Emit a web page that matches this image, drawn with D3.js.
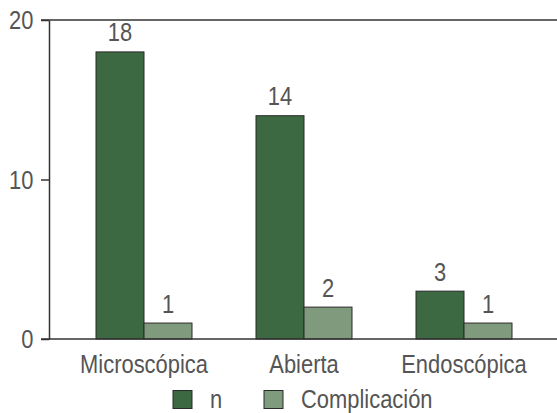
<!DOCTYPE html>
<html>
<head>
<meta charset="utf-8">
<script src="https://cdn.jsdelivr.net/npm/d3@7"></script>
<style>
  html, body { margin: 0; padding: 0; background: #fff; }
  svg text { font-family: "Liberation Sans", Arial, Helvetica, sans-serif; fill: #555; }
</style>
</head>
<body>
<svg id="chart" width="557" height="413"></svg>
<script>
const categories = ["Microscópica", "Abierta", "Endoscópica"];
const seriesNames = ["n", "Complicación"];
const nValues = [18, 14, 3];
const complicationValues = [1, 2, 1];
const yTicks = [0, 10, 20];
const colors = ["#3c6942", "#7f9a7c"];

const FONT = 25.5;   // label size
const SX = 0.86;     // horizontal squeeze for a condensed look

const svg = d3.select("#chart");
const yMin = 339, yMax = 20, axisX = 49;

const y = d3.scaleLinear().domain([0, 20]).range([yMin, yMax]);
const x = d3.scaleBand().domain(categories).range([64, 544]).paddingInner(0.4).paddingOuter(0.2);
const xs = d3.scaleBand().domain(seriesNames).range([0, x.bandwidth()]);

const rows = categories.map((c, i) => ({ cat: c, vals: [nValues[i], complicationValues[i]] }));

// condensed text placed at (px, py)
function label(parent, px, py, str, anchor) {
  return parent.append("text")
    .attr("transform", `translate(${px},${py}) scale(${SX},1)`)
    .attr("text-anchor", anchor || "middle")
    .attr("font-size", FONT)
    .text(str);
}

// top reference line at the axis maximum
svg.append("line")
  .attr("x1", axisX - 8).attr("x2", 557)
  .attr("y1", y(20)).attr("y2", y(20))
  .attr("stroke", "#333").attr("stroke-width", 1.5);

// bars
const groups = svg.selectAll("g.cat").data(rows).join("g")
  .attr("class", "cat")
  .attr("transform", d => `translate(${x(d.cat)},0)`);

groups.selectAll("rect").data(d => d.vals.map((v, j) => ({ v, s: seriesNames[j], j })))
  .join("rect")
  .attr("x", d => xs(d.s))
  .attr("y", d => y(d.v))
  .attr("width", xs.bandwidth())
  .attr("height", d => y(0) - y(d.v))
  .attr("fill", d => colors[d.j])
  .attr("stroke", "#2a2a2a")
  .attr("stroke-width", 1);

groups.each(function (d) {
  const g = d3.select(this);
  d.vals.forEach((v, j) => {
    label(g, xs(seriesNames[j]) + xs.bandwidth() / 2, y(v) - 10.5, v);
  });
});

// y axis
const yAxis = svg.append("g")
  .attr("transform", `translate(${axisX},0)`)
  .call(d3.axisLeft(y).tickValues(yTicks).tickSize(8).tickSizeOuter(0).tickFormat(""));
yAxis.select(".domain").attr("stroke", "#333").attr("stroke-width", 1.5);
yAxis.selectAll(".tick line").attr("stroke", "#333").attr("stroke-width", 1.5);
yTicks.forEach(t => label(svg, axisX - 15.5, y(t) + 9, t, "end"));

// baseline and category labels
svg.append("line")
  .attr("x1", axisX - 8).attr("x2", 557)
  .attr("y1", yMin).attr("y2", yMin)
  .attr("stroke", "#333").attr("stroke-width", 1.5);
categories.forEach(c => label(svg, x(c) + x.bandwidth() / 2, 372.5, c));

// legend
const legendItems = [
  { name: seriesNames[0], color: colors[0], x: 173, tx: 210 },
  { name: seriesNames[1], color: colors[1], x: 264, tx: 301 }
];
const leg = svg.append("g");
leg.selectAll("rect").data(legendItems).join("rect")
  .attr("x", d => d.x).attr("y", 390.5)
  .attr("width", 19).attr("height", 18)
  .attr("fill", d => d.color)
  .attr("stroke", "#2a2a2a").attr("stroke-width", 1);
legendItems.forEach(d => label(leg, d.tx, 408, d.name, "start"));
</script>
</body>
</html>
